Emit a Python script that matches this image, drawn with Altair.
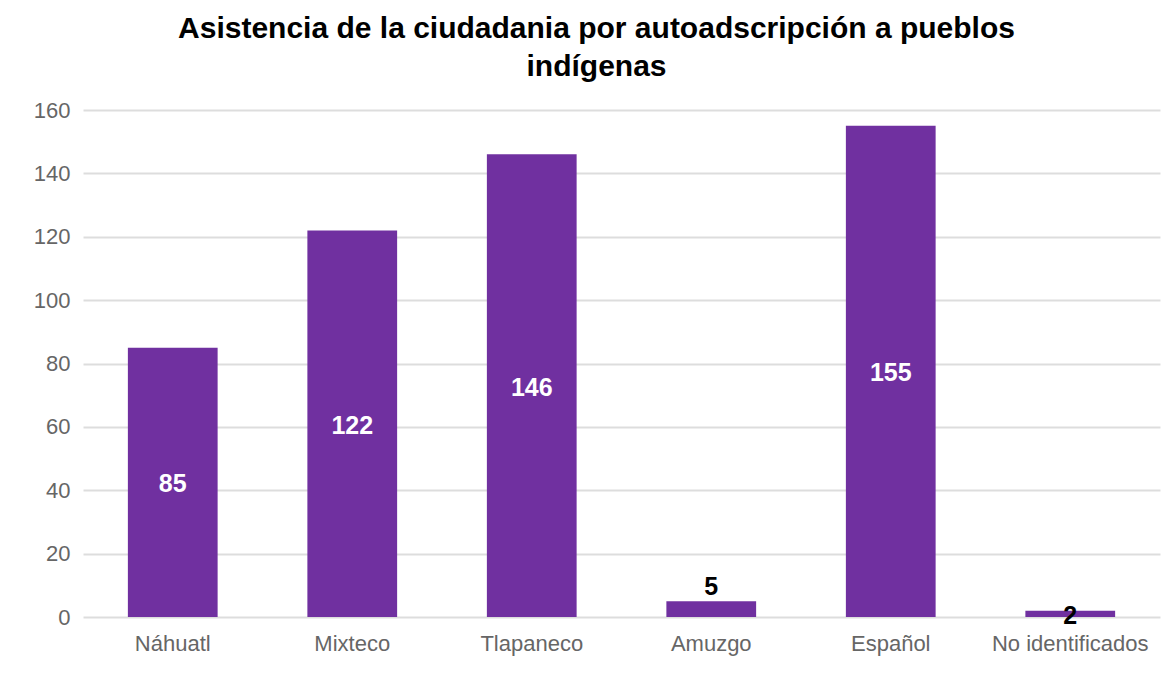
import altair as alt
import pandas as pd

categorias = ["Náhuatl", "Mixteco", "Tlapaneco", "Amuzgo", "Español", "No identificados"]
valores = [85, 122, 146, 5, 155, 2]

df = pd.DataFrame({"categoria": categorias, "valor": valores})

FONT = "Liberation Sans"
PURPLE = "#7030A0"

base = alt.Chart(df).encode(
    x=alt.X("categoria:N", sort=categorias,
            scale=alt.Scale(paddingInner=0.5, paddingOuter=0.25),
            axis=alt.Axis(title=None, labelAngle=0, labelFont=FONT, labelFontSize=22,
                          labelColor="#666666", domain=False, ticks=False, labelPadding=16,
                          grid=False))
)

bars = base.mark_bar(color=PURPLE).encode(
    y=alt.Y("valor:Q", scale=alt.Scale(domain=[0, 160]),
            axis=alt.Axis(title=None, values=[0, 20, 40, 60, 80, 100, 120, 140, 160],
                          labelFont=FONT, labelFontSize=22, labelColor="#666666",
                          domain=False, ticks=False, labelPadding=13,
                          gridColor="#dddddd", gridWidth=2))
)

mid_labels = base.transform_filter("datum.valor != 5").transform_calculate(
    ypos="datum.valor / 2"
).mark_text(font=FONT, fontSize=25, fontWeight="bold", baseline="middle", dy=2).encode(
    y=alt.Y("ypos:Q"),
    text="valor:Q",
    color=alt.condition("datum.valor > 10", alt.value("white"), alt.value("black")),
)

top_labels = base.transform_filter("datum.valor == 5").mark_text(
    font=FONT, fontSize=25, fontWeight="bold", baseline="bottom", dy=-1, color="black"
).encode(
    y=alt.Y("valor:Q"),
    text="valor:Q",
)

chart = alt.layer(bars, mid_labels, top_labels).properties(
    width=1077,
    height=507,
    padding={"left": 75, "top": 102, "right": 8, "bottom": 50},
    autosize=alt.AutoSizeParams(type="none"),
    title=alt.TitleParams(
        text=["Asistencia de la ciudadania por autoadscripción a pueblos", "indígenas"],
        font=FONT, fontSize=30, fontWeight="bold", color="black",
        anchor="middle", dx=-25, offset=17, lineHeight=38,
    ),
).configure_view(stroke=None)

chart.save("out.html", embed_options={"renderer": "svg", "actions": False})
